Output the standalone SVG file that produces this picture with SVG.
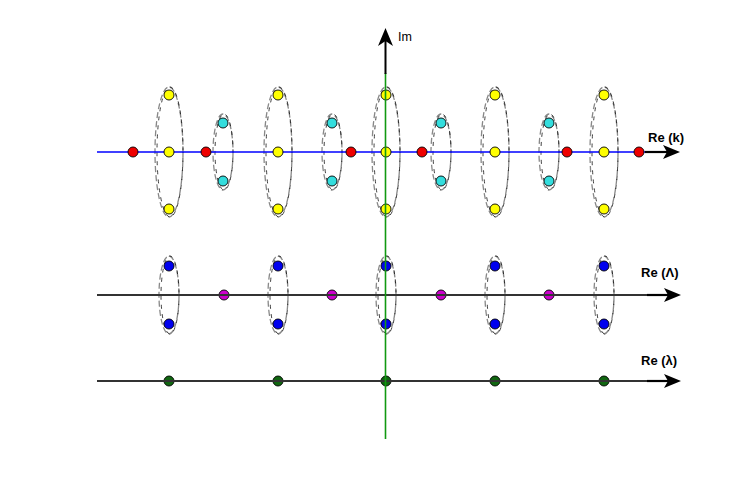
<svg xmlns="http://www.w3.org/2000/svg" width="747" height="493" viewBox="0 0 747 493">
<style>
.bg{fill:#fff}
.ell{fill:none;stroke:#888;stroke-width:1.3;stroke-dasharray:6 3}
.ell2{fill:none;stroke:#111;stroke-width:0.8;stroke-dasharray:4 5;stroke-dashoffset:3}
.dot{stroke:#000;stroke-width:0.9}
.y{fill:#ffff00}.c{fill:#33dddd}.r{fill:#ee0000}.b{fill:#0000ee}.m{fill:#cc00cc}.g{fill:#116611}
.lbl{font-family:"Liberation Sans",Arial,sans-serif;font-size:13px;font-weight:bold;fill:#000}
.axis{stroke:#333;stroke-width:1.8;fill:none}
</style>
<rect class="bg" x="0" y="0" width="747" height="493"/>
<g id="ellipses">
<g id="ell-top">
<ellipse class="ell" cx="169" cy="152" rx="14" ry="65"/><ellipse class="ell2" cx="170" cy="152" rx="13" ry="65"/>
<ellipse class="ell" cx="278" cy="152" rx="14" ry="65"/><ellipse class="ell2" cx="279" cy="152" rx="13" ry="65"/>
<ellipse class="ell" cx="386" cy="152" rx="14" ry="65"/><ellipse class="ell2" cx="387" cy="152" rx="13" ry="65"/>
<ellipse class="ell" cx="495" cy="152" rx="14" ry="65"/><ellipse class="ell2" cx="496" cy="152" rx="13" ry="65"/>
<ellipse class="ell" cx="604" cy="152" rx="14" ry="65"/><ellipse class="ell2" cx="605" cy="152" rx="13" ry="65"/>
<ellipse class="ell" cx="223" cy="152" rx="10" ry="38"/><ellipse class="ell2" cx="224" cy="152" rx="9" ry="38"/>
<ellipse class="ell" cx="332" cy="152" rx="10" ry="38"/><ellipse class="ell2" cx="333" cy="152" rx="9" ry="38"/>
<ellipse class="ell" cx="441" cy="152" rx="10" ry="38"/><ellipse class="ell2" cx="442" cy="152" rx="9" ry="38"/>
<ellipse class="ell" cx="549" cy="152" rx="10" ry="38"/><ellipse class="ell2" cx="550" cy="152" rx="9" ry="38"/>
</g>
<g id="ell-mid">
<ellipse class="ell" cx="169" cy="295" rx="10" ry="39"/><ellipse class="ell2" cx="170" cy="295" rx="9" ry="39"/>
<ellipse class="ell" cx="278" cy="295" rx="10" ry="39"/><ellipse class="ell2" cx="279" cy="295" rx="9" ry="39"/>
<ellipse class="ell" cx="386" cy="295" rx="10" ry="39"/><ellipse class="ell2" cx="387" cy="295" rx="9" ry="39"/>
<ellipse class="ell" cx="495" cy="295" rx="10" ry="39"/><ellipse class="ell2" cx="496" cy="295" rx="9" ry="39"/>
<ellipse class="ell" cx="604" cy="295" rx="10" ry="39"/><ellipse class="ell2" cx="605" cy="295" rx="9" ry="39"/>
</g>
</g>
<g id="axis-k">
<line x1="97" y1="152" x2="645" y2="152" stroke="#0000ff" stroke-width="1.6"/>
<line x1="645" y1="152" x2="668" y2="152" stroke="#000" stroke-width="2.2"/>
<polygon points="680,152 663,145 667,152 663,159" fill="#000"/>
<text class="lbl" x="648" y="142">Re (k)</text>
</g>
<g id="dots-top">
<circle class="dot r" cx="133" cy="152" r="5"/><circle class="dot r" cx="206" cy="152" r="5"/><circle class="dot r" cx="351" cy="152" r="5"/>
<circle class="dot r" cx="422" cy="152" r="5"/><circle class="dot r" cx="567" cy="152" r="5"/><circle class="dot r" cx="639" cy="152" r="5"/>
<circle class="dot y" cx="169" cy="95" r="5"/><circle class="dot y" cx="169" cy="152" r="5"/><circle class="dot y" cx="169" cy="209" r="5"/>
<circle class="dot y" cx="278" cy="95" r="5"/><circle class="dot y" cx="278" cy="152" r="5"/><circle class="dot y" cx="278" cy="209" r="5"/>
<circle class="dot y" cx="386" cy="95" r="5"/><circle class="dot y" cx="386" cy="152" r="5"/><circle class="dot y" cx="386" cy="209" r="5"/>
<circle class="dot y" cx="495" cy="95" r="5"/><circle class="dot y" cx="495" cy="152" r="5"/><circle class="dot y" cx="495" cy="209" r="5"/>
<circle class="dot y" cx="604" cy="95" r="5"/><circle class="dot y" cx="604" cy="152" r="5"/><circle class="dot y" cx="604" cy="209" r="5"/>
<circle class="dot c" cx="223" cy="123" r="5"/><circle class="dot c" cx="223" cy="181" r="5"/>
<circle class="dot c" cx="332" cy="123" r="5"/><circle class="dot c" cx="332" cy="181" r="5"/>
<circle class="dot c" cx="441" cy="123" r="5"/><circle class="dot c" cx="441" cy="181" r="5"/>
<circle class="dot c" cx="549" cy="123" r="5"/><circle class="dot c" cx="549" cy="181" r="5"/>
</g>
<g id="dots-mid">
<circle class="dot b" cx="169" cy="266" r="5"/><circle class="dot b" cx="169" cy="324" r="5"/>
<circle class="dot b" cx="278" cy="266" r="5"/><circle class="dot b" cx="278" cy="324" r="5"/>
<circle class="dot b" cx="386" cy="266" r="5"/><circle class="dot b" cx="386" cy="324" r="5"/>
<circle class="dot b" cx="495" cy="266" r="5"/><circle class="dot b" cx="495" cy="324" r="5"/>
<circle class="dot b" cx="604" cy="266" r="5"/><circle class="dot b" cx="604" cy="324" r="5"/>
<circle class="dot m" cx="224" cy="295" r="5"/><circle class="dot m" cx="332" cy="295" r="5"/>
<circle class="dot m" cx="441" cy="295" r="5"/><circle class="dot m" cx="549" cy="295" r="5"/>
</g>
<g id="dots-bot">
<circle class="dot g" cx="169" cy="381" r="5"/><circle class="dot g" cx="278" cy="381" r="5"/>
<circle class="dot g" cx="386" cy="381" r="5"/><circle class="dot g" cx="495" cy="381" r="5"/>
<circle class="dot g" cx="604" cy="381" r="5"/>
</g>
<g id="axis-Lambda">
<line class="axis" x1="97" y1="295" x2="648" y2="295"/>
<line x1="647" y1="295" x2="668" y2="295" stroke="#000" stroke-width="2.2"/>
<polygon points="681,295 664,288 668,295 664,302" fill="#000"/>
<text class="lbl" x="641" y="277">Re (Λ)</text>
</g>
<g id="axis-lambda">
<line class="axis" x1="97" y1="381" x2="648" y2="381"/>
<line x1="647" y1="381" x2="668" y2="381" stroke="#000" stroke-width="2.2"/>
<polygon points="681,381 664,374 668,381 664,388" fill="#000"/>
<text class="lbl" x="641" y="365">Re (λ)</text>
</g>
<g id="axis-Im">
<line x1="385.5" y1="73" x2="385.5" y2="439" stroke="#119911" stroke-width="1.6"/>
<line x1="385.5" y1="40" x2="385.5" y2="74" stroke="#000" stroke-width="2"/>
<polygon points="385.5,28 378,46 385.5,41 393,46" fill="#000"/>
<text x="398" y="41" font-family="'Liberation Sans',Arial,sans-serif" font-size="12.5" fill="#000">Im</text>
</g>
</svg>
